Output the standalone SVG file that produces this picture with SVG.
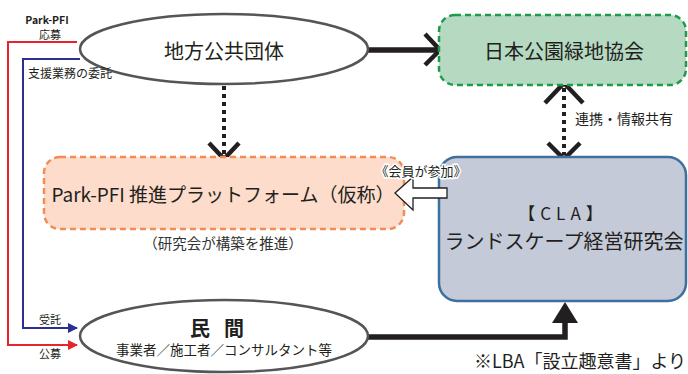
<svg xmlns="http://www.w3.org/2000/svg" width="688" height="374" viewBox="0 0 688 374">
<defs>
<style>
text{font-family:"Noto Sans CJK JP","Noto Sans",sans-serif;fill:#231f20;text-anchor:middle;dominant-baseline:central}
.ell{fill:#fff;stroke:#555;stroke-width:2.5}
.dot{stroke:#231f20;stroke-width:4;stroke-dasharray:4 4;fill:none}
.chev{stroke:#231f20;stroke-width:4.5;fill:none}
.thick{stroke:#231f20;stroke-width:5.5;fill:none}
.sm{fill:#333}
</style>
<marker id="arR" viewBox="0 0 10 10" refX="9" refY="5" markerWidth="5" markerHeight="5" orient="auto" markerUnits="strokeWidth"><path d="M0,0L10,5L0,10z" fill="#e8242b"/></marker>
<marker id="arB" viewBox="0 0 10 10" refX="9" refY="5" markerWidth="5" markerHeight="5" orient="auto" markerUnits="strokeWidth"><path d="M0,0L10,5L0,10z" fill="#2b2f8f"/></marker>
</defs>
<g id="connectors">
<polyline points="77,42 8,42 8,345 77,345" fill="none" stroke="#e8242b" stroke-width="2" marker-end="url(#arR)"/>
<polyline points="80,59 23,59 23,328 77,328" fill="none" stroke="#2b2f8f" stroke-width="2" marker-end="url(#arB)"/>
<line x1="367" y1="50" x2="438" y2="50" class="thick"/>
<polyline points="425,34 440,50 425,65" class="chev"/>
<line x1="224" y1="86" x2="224" y2="155" class="dot"/>
<polyline points="209,143 224,159 239,143" class="chev"/>
<line x1="564" y1="88" x2="564" y2="155" class="dot"/>
<polyline points="545,103 564,83 583,103" class="chev"/>
<polyline points="548,143 564,159 580,143" class="chev"/>
<polyline points="367,337 565,337 565,320" class="thick"/>
<polygon points="552,323 565,302 578,323" fill="#231f20"/>
</g>
<g id="chihou">
<ellipse cx="224" cy="49" rx="144" ry="35" class="ell"/>
<text x="224" y="50" font-size="20">地方公共団体</text>
</g>
<g id="green">
<rect x="439" y="15" width="247" height="70" rx="16" fill="#b6d9c2" stroke="#1e9a4a" stroke-width="2.5" stroke-dasharray="6 4"/>
<text x="564" y="50" font-size="20">日本公園緑地協会</text>
</g>
<g id="platform">
<rect x="44" y="157" width="360" height="72" rx="16" fill="#fddccb" stroke="#f28c55" stroke-width="2.5" stroke-dasharray="6 4"/>
<text x="223" y="193" font-size="19">Park-PFI 推進プラットフォーム（仮称）</text>
<text x="223" y="242" class="sm" font-size="14.5">（研究会が構築を推進）</text>
</g>
<g id="cla">
<rect x="439" y="157" width="247" height="144" rx="18" fill="#c5cad9" stroke="#3d6f9f" stroke-width="2.5"/>
<text x="563" y="212" font-size="17" letter-spacing="5">【CLA】</text>
<text x="564" y="240" font-size="20">ランドスケープ経営研究会</text>
</g>
<g id="hollow">
<polygon points="395,193 413,177 413,188 447,188 447,198 413,198 413,210" fill="#fff" stroke="#231f20" stroke-width="1.3"/>
<text x="421" y="170" font-size="13" fill="#333" stroke="#fff" stroke-width="3" paint-order="stroke">《会員が参加》</text>
</g>
<g id="minkan">
<ellipse cx="224" cy="336" rx="144" ry="36" class="ell"/>
<text x="224" y="327" font-size="20" font-weight="bold" letter-spacing="14">民間</text>
<text x="224" y="349" font-size="13.5">事業者／施工者／コンサルタント等</text>
</g>
<g id="labels">
<text x="47" y="19" font-size="10.5" font-weight="bold" fill="#333">Park-PFI</text>
<text x="50" y="34" font-size="11" fill="#333">応募</text>
<text x="70" y="72" font-size="12" fill="#333">支援業務の委託</text>
<text x="50" y="319" font-size="11" fill="#333">受託</text>
<text x="50" y="353" font-size="11" fill="#333">公募</text>
<text x="624" y="118" font-size="14" fill="#333">連携・情報共有</text>
<text x="580" y="360" font-size="18">※LBA「設立趣意書」より</text>
</g>
</svg>
